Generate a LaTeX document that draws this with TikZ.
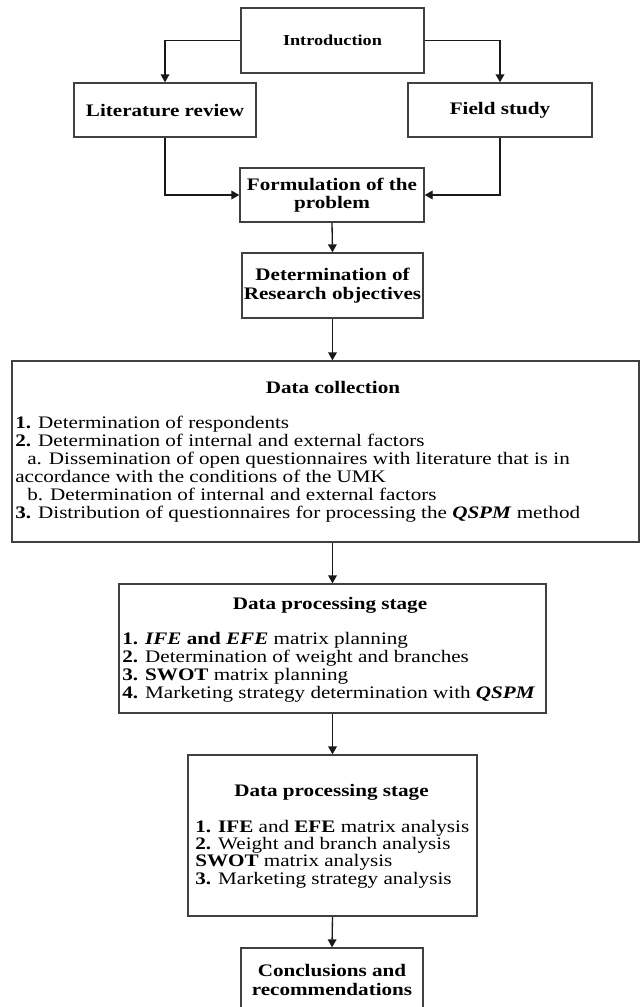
\documentclass[tikz,border=0pt]{standalone}
\usepackage{fontspec}
\setmainfont{Liberation Serif}[FakeStretch=1.2]
\usetikzlibrary{arrows.meta}
\newcommand\ftitle{\fontsize{13.2}{13.9}\selectfont\bfseries}
\newcommand\fintro{\fontsize{11.4}{13}\selectfont\bfseries}
\newcommand\fbody{\fontsize{13.2}{13.5}\selectfont}
\newcommand\fbodyb{\fontsize{13.2}{13.1}\selectfont}
\begin{document}
\begin{tikzpicture}[x=0.75pt,y=-0.75pt,
  box/.style={draw=black!75, line width=1pt, fill=white, inner sep=0pt, align=center, font=\ftitle},
  sz/.style 2 args={minimum width={#1*0.75pt}, minimum height={#2*0.75pt}},
  conn/.style={draw=black!90, line width=1pt, -{Triangle[length=6pt,width=6.5pt]}},
  txt/.style={inner sep=0pt, anchor=base west},
  ttl/.style={inner sep=0pt, anchor=base, font=\ftitle}
]
\useasboundingbox (0,0) rectangle (640,1007);
\clip (0,0) rectangle (640,1007);

\node[box, sz={183}{65}, font=\fintro] (intro) at (332.5,40.5) {Introduction};
\node[box, sz={182}{54}] (lit) at (165,110) {Literature review};
\node[box, sz={184}{54}] (field) at (500,110) {Field study};
\node[box, sz={184}{54}] (form) at (332,195) {Formulation of the\\problem};
\node[box, sz={181}{65}] (det) at (332.5,285.5) {Determination of\\Research objectives};
\node[box, sz={627}{181}] (dc) at (325.5,451.5) {};
\node[box, sz={427}{129}] (dp1) at (332.5,648.5) {};
\node[box, sz={289}{161}] (dp2) at (332.5,835.5) {};
\node[box, sz={182}{64}] (conc) at (332,980) {Conclusions and\\recommendations};

\node[ttl] (dct) at (333,393) {Data collection};
\node[txt, font=\fbody] (dcl) at (15,428) {\begin{tabular}[t]{@{}l@{}}
\textbf{1.} Determination of respondents\\
\textbf{2.} Determination of internal and external factors\\
\hspace*{9pt}a. Dissemination of open questionnaires with literature that is in\\
accordance with the conditions of the UMK\\
\hspace*{9pt}b. Determination of internal and external factors\\
\textbf{3.} Distribution of questionnaires for processing the \textbf{\textit{QSPM}} method
\end{tabular}};

\node[ttl] (dp1t) at (330,609) {Data processing stage};
\node[txt, font=\fbody] (dp1l) at (122,644) {\begin{tabular}[t]{@{}l@{}}
\textbf{1. \textit{IFE} and \textit{EFE}} matrix planning\\
\textbf{2.} Determination of weight and branches\\
\textbf{3. SWOT} matrix planning\\
\textbf{4.} Marketing strategy determination with \textbf{\textit{QSPM}}
\end{tabular}};

\node[ttl] (dp2t) at (331.5,796) {Data processing stage};
\node[txt, font=\fbodyb] (dp2l) at (195,832) {\begin{tabular}[t]{@{}l@{}}
\textbf{1. IFE} and \textbf{EFE} matrix analysis\\
\textbf{2.} Weight and branch analysis\\
\textbf{SWOT} matrix analysis\\
\textbf{3.} Marketing strategy analysis
\end{tabular}};

\draw[conn] (intro.west) -| (lit.north);
\draw[conn] (intro.east) -| (field.north);
\draw[conn] (lit.south) |- (form.west);
\draw[conn] (field.south) |- (form.east);
\draw[conn] (form.south) -- (det.north);
\draw[conn] (det.south) -- (det.south |- dc.north);
\draw[conn] (dp1.north |- dc.south) -- (dp1.north);
\draw[conn] (dp1.south) -- (dp2.north);
\draw[conn] (dp2.south) -- (conc.north);
\end{tikzpicture}
\end{document}
